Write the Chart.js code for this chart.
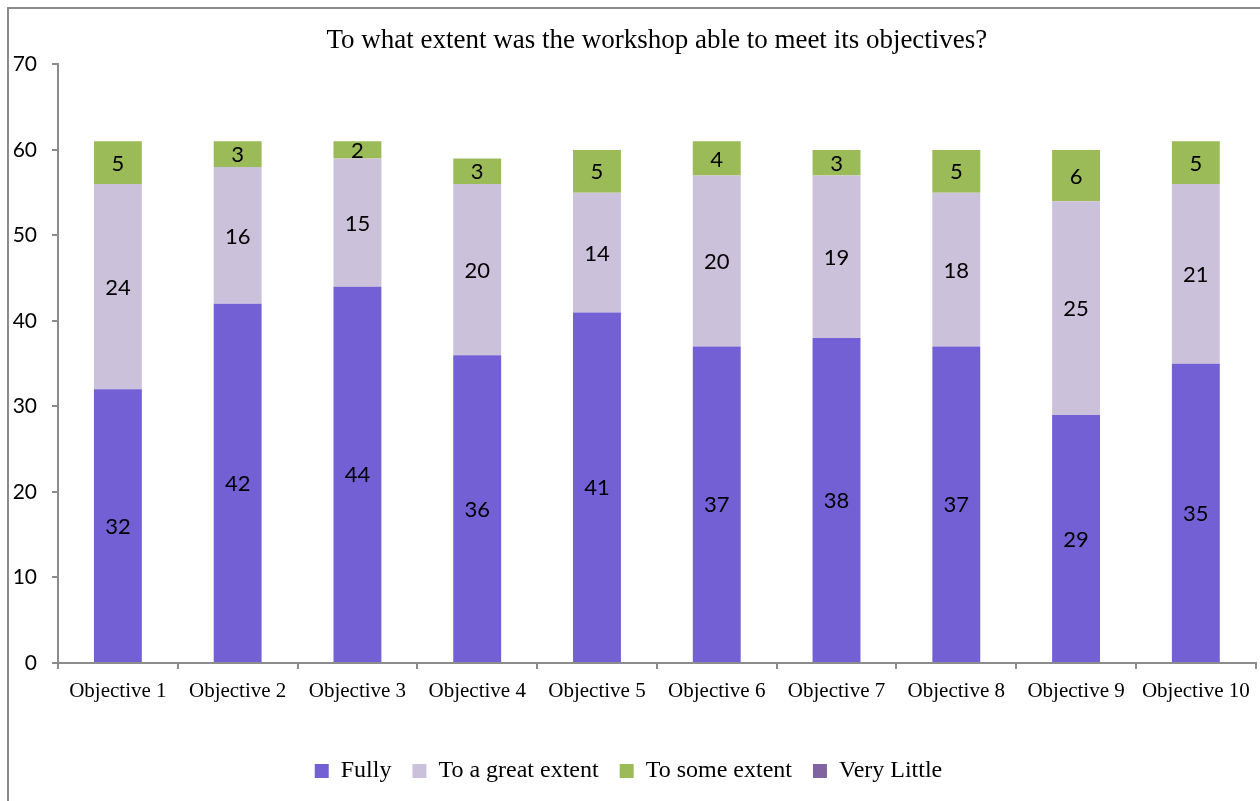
<!DOCTYPE html>
<html>
<head>
<meta charset="utf-8">
<script src="https://cdn.jsdelivr.net/npm/chart.js@4/dist/chart.umd.min.js"></script>
<style>
  html, body { margin: 0; padding: 0; background: #fff; overflow: hidden; }
  #wrap { position: relative; width: 1260px; height: 801px; }
  #frame { position: absolute; left: 7px; top: 7px; width: 1400px; height: 1000px;
           border-left: 2px solid #8c8c8c; border-top: 2px solid #8c8c8c; pointer-events: none; }
</style>
</head>
<body>
<div id="wrap">
  <canvas id="c" width="1260" height="801"></canvas>
  <div id="frame"></div>
</div>
<script>
const categories = ["Objective 1","Objective 2","Objective 3","Objective 4","Objective 5",
                    "Objective 6","Objective 7","Objective 8","Objective 9","Objective 10"];
const fully       = [32, 42, 44, 36, 41, 37, 38, 37, 29, 35];
const greatExtent = [24, 16, 15, 20, 14, 20, 19, 18, 25, 21];
const someExtent  = [5, 3, 2, 3, 5, 4, 3, 5, 6, 5];
const veryLittle  = [0, 0, 0, 0, 0, 0, 0, 0, 0, 0];
const yTicks = [0, 10, 20, 30, 40, 50, 60, 70];
const titleText = "To what extent was the workshop able to meet its objectives?";

const axisGray = '#8c8c8c';

const valueLabels = {
  id: 'valueLabels',
  afterDatasetsDraw(chart) {
    const ctx = chart.ctx;
    ctx.save();
    ctx.font = '22px Lato, "Open Sans", sans-serif';
    ctx.fillStyle = '#000';
    ctx.textAlign = 'center';
    ctx.textBaseline = 'middle';
    chart.data.datasets.forEach((ds, i) => {
      const meta = chart.getDatasetMeta(i);
      if (meta.hidden) return;
      meta.data.forEach((bar, j) => {
        const v = ds.data[j];
        if (!v) return;
        const p = bar.getProps(['x', 'y', 'base'], true);
        ctx.fillText(String(v), p.x, (p.y + p.base) / 2 + 1);
      });
    });
    ctx.restore();
  }
};

new Chart(document.getElementById('c'), {
  type: 'bar',
  data: {
    labels: categories,
    datasets: [
      { label: 'Fully', data: fully, backgroundColor: '#7360d4' },
      { label: 'To a great extent', data: greatExtent, backgroundColor: '#ccc1da' },
      { label: 'To some extent', data: someExtent, backgroundColor: '#9bbb59' },
      { label: 'Very Little', data: veryLittle, backgroundColor: '#8064a2' }
    ]
  },
  options: {
    responsive: false,
    animation: false,
    devicePixelRatio: 1,
    layout: { padding: { left: 0, right: 3, top: 0, bottom: 8 } },
    datasets: { bar: { categoryPercentage: 0.8, barPercentage: 0.5, borderWidth: 0 } },
    plugins: {
      tooltip: { enabled: false },
      title: {
        display: true,
        text: titleText,
        fullSize: false,
        color: '#000',
        font: { family: '"Liberation Serif", "Times New Roman", serif', size: 27, weight: 'normal' },
        padding: { top: 25, bottom: 7 }
      },
      legend: {
        position: 'bottom',
        labels: {
          color: '#000',
          font: { family: '"Liberation Serif", "Times New Roman", serif', size: 24 },
          boxWidth: 14,
          boxHeight: 14,
          padding: 21
        }
      }
    },
    scales: {
      x: {
        stacked: true,
        grid: { display: true, drawOnChartArea: false, drawTicks: true, tickLength: 6, color: axisGray, lineWidth: 2, offset: true },
        border: { display: true, color: axisGray, width: 2 },
        ticks: {
          color: '#000',
          font: { family: '"Liberation Serif", "Times New Roman", serif', size: 21 },
          padding: 10,
          maxRotation: 0,
          autoSkip: false
        },
        afterFit(scale) { scale.height = 75; }
      },
      y: {
        stacked: true,
        min: 0,
        max: 70,
        grid: { display: true, drawOnChartArea: false, drawTicks: true, tickLength: 6, color: axisGray, lineWidth: 2 },
        border: { display: true, color: axisGray, width: 2 },
        afterBuildTicks(scale) { scale.ticks = yTicks.map(v => ({ value: v })); },
        ticks: {
          color: '#000',
          font: { family: 'Lato, "Open Sans", sans-serif', size: 21 },
          padding: 15
        },
        afterFit(scale) { scale.width = 58; }
      }
    }
  },
  plugins: [valueLabels]
});
</script>
</body>
</html>
